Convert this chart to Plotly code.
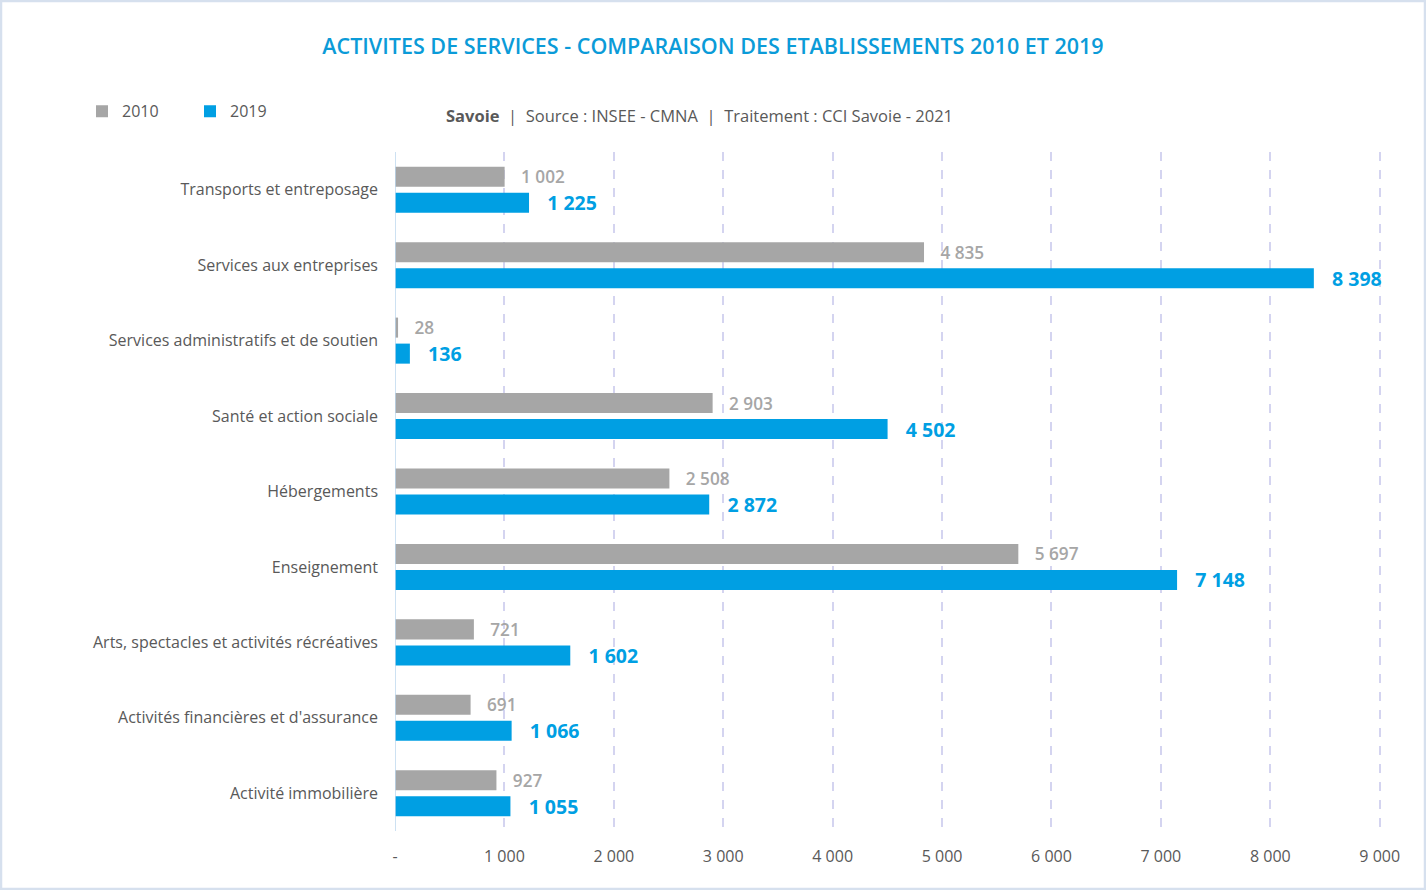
import plotly.graph_objects as go

categories = [
    "Transports et entreposage",
    "Services aux entreprises",
    "Services administratifs et de soutien",
    "Santé et action sociale",
    "Hébergements",
    "Enseignement",
    "Arts, spectacles et activités récréatives",
    "Activités financières et d'assurance",
    "Activité immobilière",
]
values_2010 = [1002, 4835, 28, 2903, 2508, 5697, 721, 691, 927]
values_2019 = [1225, 8398, 136, 4502, 2872, 7148, 1602, 1066, 1055]
tick_vals = [0, 1000, 2000, 3000, 4000, 5000, 6000, 7000, 8000, 9000]
tick_text = ["-", "1 000", "2 000", "3 000", "4 000", "5 000", "6 000", "7 000", "8 000", "9 000"]

GRAY = "#A6A6A6"
BLUE = "#009FE3"
TEXT = "#595959"
FONT = "Open Sans"

fig = go.Figure()
fig.add_trace(go.Bar(
    name="2010", y=categories, x=values_2010, orientation="h",
    marker=dict(color=GRAY, line=dict(width=0)),
    texttemplate="\u00a0\u00a0\u00a0%{x:,}", textposition="outside",
    textfont=dict(color=GRAY, size=17.2, family=FONT, weight=600),
    constraintext="none", cliponaxis=False,
))
fig.add_trace(go.Bar(
    name="2019", y=categories, x=values_2019, orientation="h",
    marker=dict(color=BLUE, line=dict(width=0)),
    texttemplate="\u00a0\u00a0\u00a0%{x:,}", textposition="outside",
    textfont=dict(color=BLUE, size=19.5, family=FONT, weight="bold"),
    constraintext="none", cliponaxis=False,
))

PLOT_W = 988  # plot-area width in px (0 .. 9030)

fig.update_layout(
    width=1426, height=890,
    paper_bgcolor="white", plot_bgcolor="white",
    separators=", ",
    barmode="group", bargap=0.31, bargroupgap=0.23,
    margin=dict(l=395, r=1426 - 395 - PLOT_W, t=152, b=59),
    font=dict(family=FONT, color=TEXT, size=16),
    title=dict(
        text="ACTIVITES DE SERVICES - COMPARAISON DES ETABLISSEMENTS 2010 ET 2019",
        x=0.5, xref="container", xanchor="center", y=0.948, yanchor="middle",
        font=dict(family=FONT, size=21.5, color="#0B9BD8", weight=600),
    ),
    showlegend=True,
    legend=dict(
        orientation="h", x=-313 / PLOT_W, xanchor="left", y=1.060, yanchor="middle",
        font=dict(size=16, color=TEXT, family=FONT),
        itemwidth=30, traceorder="normal", entrywidth=63,
    ),
    xaxis=dict(
        range=[0, 9030], tickvals=tick_vals, ticktext=tick_text,
        showgrid=True, gridcolor="#D4D4F0", griddash="dash", gridwidth=1.5,
        zeroline=False, showline=False, ticks="",
        tickfont=dict(size=16, color=TEXT), ticklabelstandoff=14,
    ),
    yaxis=dict(
        autorange="reversed", showgrid=False, zeroline=False,
        showline=False, ticks="", ticklabelstandoff=16,
        tickfont=dict(size=16, color=TEXT),
    ),
)

# light blue axis line at zero
fig.add_shape(type="line", xref="x", yref="paper", x0=0, x1=0, y0=0, y1=1,
              line=dict(color="#BDD7EE", width=1.5))
# outer frame
fig.add_shape(type="rect", xref="paper", yref="paper",
              x0=-394 / PLOT_W, x1=(1425 - 395) / PLOT_W, y0=-58 / 679, y1=1 + 151 / 679,
              line=dict(color="#D6E0EE", width=2.5), fillcolor="rgba(0,0,0,0)")

fig.add_annotation(
    xref="paper", yref="paper", x=(444 - 395) / PLOT_W, y=(831 - 116) / 679,
    xanchor="left", yanchor="middle", showarrow=False,
    text="<b>Savoie</b>  |  Source : INSEE - CMNA  |  Traitement : CCI Savoie - 2021",
    font=dict(size=16.5, color=TEXT, family=FONT),
)

fig.write_html("out.html", config={"displayModeBar": False},
               post_script="document.body.style.margin='0';")
